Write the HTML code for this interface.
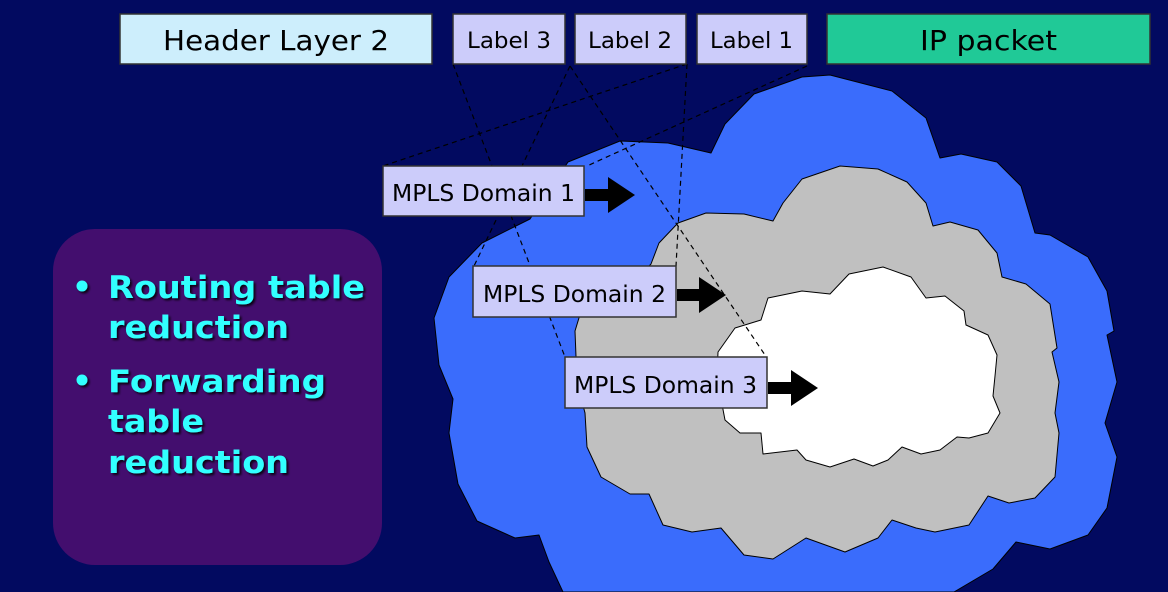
<!DOCTYPE html>
<html><head><meta charset="utf-8"><style>
html,body{margin:0;padding:0;background:#020a60;}
svg{display:block}
</style></head><body>
<svg width="1168" height="592" viewBox="0 0 1168 592" xmlns="http://www.w3.org/2000/svg">
<rect width="1168" height="592" fill="#020a60"/>
<defs>
<filter id="sh" x="-10%" y="-10%" width="130%" height="140%"><feDropShadow dx="2" dy="2" stdDeviation="1" flood-color="#000" flood-opacity="0.8"/></filter>
</defs>
<rect x="53" y="229" width="329" height="336" rx="42" fill="#430e6e"/>
<g font-family="DejaVu Sans, Liberation Sans, sans-serif" font-weight="bold" font-size="31" fill="#33ffff" filter="url(#sh)">
<circle cx="82" cy="286" r="5.5"/>
<circle cx="82" cy="380" r="5.5"/>
<text x="108" y="298" textLength="257" lengthAdjust="spacingAndGlyphs">Routing table</text>
<text x="108" y="338" textLength="181" lengthAdjust="spacingAndGlyphs">reduction</text>
<text x="108" y="392" textLength="218" lengthAdjust="spacingAndGlyphs">Forwarding</text>
<text x="108" y="432" textLength="96" lengthAdjust="spacingAndGlyphs">table</text>
<text x="108" y="473" textLength="181" lengthAdjust="spacingAndGlyphs">reduction</text>
</g>
<polygon stroke="#000" stroke-width="1" stroke-linejoin="round" fill="#3a6cfc" points="568,162 620,141 668,143 711,153 725,124 754,94 802,77 830,75 892,91 926,118 940,158 961,154 997,162 1021,186 1035,233 1050,235 1088,257 1107,291 1114,331 1107,335 1117,382 1105,423 1117,457 1107,508 1088,535 1050,549 1016,542 993,569 954,592 563,592 549,562 539,535 515,538 477,521 458,484 449,433 453,399 439,365 434,318 449,277 482,243 530,219"/>
<polygon stroke="#000" stroke-width="1" stroke-linejoin="round" fill="#c0c0c0" points="651,264 659,243 678,223 706,213 744,214 773,221 783,203 802,179 840,166 878,169 907,182 926,203 933,226 950,222 978,230 997,253 1002,277 1026,284 1050,304 1057,348 1052,352 1059,382 1055,413 1059,433 1055,477 1035,498 1009,503 988,496 969,525 935,532 916,528 892,520 878,538 845,552 806,538 773,559 744,555 721,528 692,532 663,525 649,494 630,494 601,477 587,447 585,413 577,382 575,331 582,308 611,298 635,281"/>
<polygon stroke="#000" stroke-width="1" stroke-linejoin="round" fill="#ffffff" points="718,352 735,328 761,320 768,298 802,291 830,294 849,274 883,267 911,277 926,298 945,296 964,311 966,325 988,335 997,355 995,376 993,396 1000,413 988,433 969,438 957,437 940,450 921,454 902,447 888,460 873,466 854,459 830,467 806,460 797,450 763,454 761,433 740,433 725,420 721,399 717,376"/>
<g stroke="#000" stroke-width="1.2" stroke-dasharray="5,4" fill="none">
<line x1="453" y1="64" x2="565" y2="357"/>
<line x1="570" y1="66" x2="474" y2="266"/>
<line x1="570" y1="66" x2="765" y2="355"/>
<line x1="687" y1="64" x2="676" y2="266"/>
<line x1="807" y1="66" x2="587" y2="166"/>
<line x1="687" y1="64" x2="383" y2="166"/>
</g>
<g font-family="DejaVu Sans, Liberation Sans, sans-serif" fill="#000">
<rect x="120" y="14" width="312" height="50" fill="#cdeefc" stroke="#333" stroke-width="1.5"/>
<text x="163" y="50" font-size="28" textLength="226" lengthAdjust="spacingAndGlyphs">Header Layer 2</text>
<rect x="453" y="14" width="112" height="50" fill="#ccccfa" stroke="#333" stroke-width="1.5"/>
<text x="467" y="48" font-size="22" textLength="84" lengthAdjust="spacingAndGlyphs">Label 3</text>
<rect x="575" y="14" width="111" height="50" fill="#ccccfa" stroke="#333" stroke-width="1.5"/>
<text x="588" y="48" font-size="22" textLength="84" lengthAdjust="spacingAndGlyphs">Label 2</text>
<rect x="697" y="14" width="110" height="50" fill="#ccccfa" stroke="#333" stroke-width="1.5"/>
<text x="710" y="48" font-size="22" textLength="83" lengthAdjust="spacingAndGlyphs">Label 1</text>
<rect x="827" y="14" width="323" height="50" fill="#20c997" stroke="#333" stroke-width="1.5"/>
<text x="920" y="50" font-size="28" textLength="137" lengthAdjust="spacingAndGlyphs">IP packet</text>
</g>
<g font-family="DejaVu Sans, Liberation Sans, sans-serif" font-size="23" fill="#000">
<rect x="383" y="166" width="201" height="50" fill="#ccccfa" stroke="#333" stroke-width="1.5"/>
<text x="392" y="201" textLength="183" lengthAdjust="spacingAndGlyphs">MPLS Domain 1</text>
<polygon points="585,189 608,189 608,177 635,195 608,213 608,201 585,201"/>
<rect x="473" y="266" width="203" height="51" fill="#ccccfa" stroke="#333" stroke-width="1.5"/>
<text x="483" y="302" textLength="183" lengthAdjust="spacingAndGlyphs">MPLS Domain 2</text>
<polygon points="677,289 699,289 699,277 726,295 699,313 699,301 677,301"/>
<rect x="565" y="357" width="202" height="51" fill="#ccccfa" stroke="#333" stroke-width="1.5"/>
<text x="574" y="393" textLength="183" lengthAdjust="spacingAndGlyphs">MPLS Domain 3</text>
<polygon points="768,382 791,382 791,370 818,388 791,406 791,394 768,394"/>
</g>
</svg>
</body></html>
